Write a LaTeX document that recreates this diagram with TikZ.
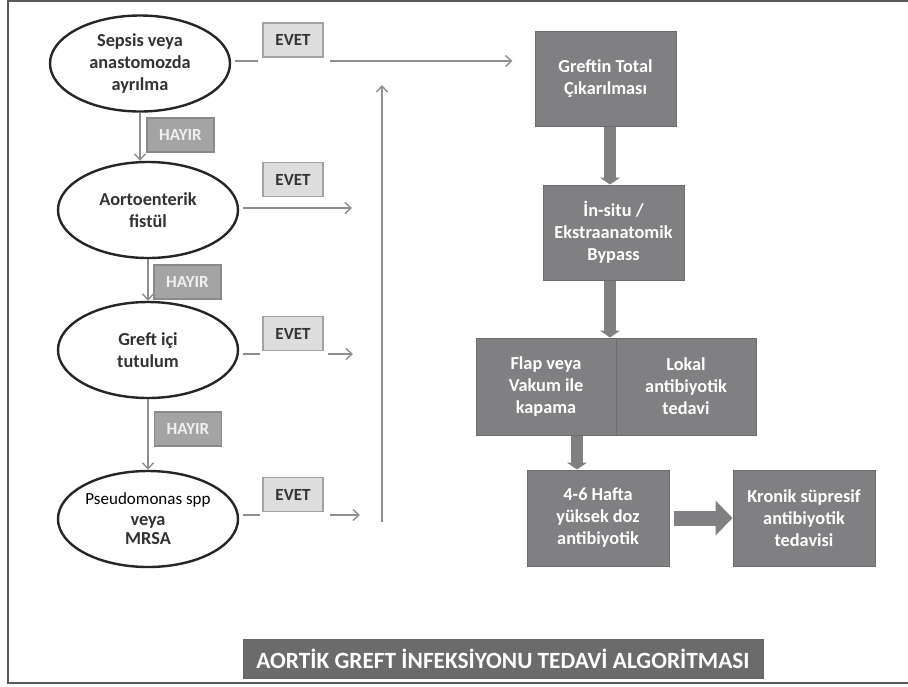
\documentclass[tikz,border=0pt]{standalone}
\usepackage{fontspec}
\setmainfont{Carlito}
\usetikzlibrary{arrows.meta,shapes.geometric}
\definecolor{boxgray}{HTML}{808083}
\definecolor{boxedge}{HTML}{6C6C6F}
\definecolor{linegray}{HTML}{8E8E8E}
\definecolor{evetfill}{HTML}{DDDDDD}
\definecolor{evetedge}{HTML}{A2A2A2}
\definecolor{hayirfill}{HTML}{A4A4A4}
\definecolor{hayiredge}{HTML}{8A8A8A}
\definecolor{titlefill}{HTML}{6B6B6B}
\definecolor{ink}{HTML}{333333}
\tikzset{
  ell/.style={ellipse,draw=black!85,line width=2.4pt,minimum width=180pt,minimum height=96pt,inner sep=0pt,
    align=center,text=ink,font=\fontsize{18.3}{22}\selectfont\bfseries},
  gbox/.style={rectangle,fill=boxgray,draw=boxedge,line width=1pt,inner sep=0pt,align=center,text=white,
    font=\fontsize{18.3}{22}\selectfont\bfseries},
  evetbox/.style={rectangle,fill=evetfill,draw=evetedge,line width=1.4pt,minimum width=60pt,minimum height=34pt,
    inner sep=0pt,text=ink,font=\fontsize{17}{18}\selectfont\bfseries},
  hayirbox/.style={rectangle,fill=hayirfill,draw=hayiredge,line width=1.4pt,minimum width=67pt,minimum height=34pt,
    inner sep=0pt,text=white!94!black,font=\fontsize{17}{18}\selectfont\bfseries},
  conn/.style={draw=linegray,line width=1.4pt},
  connarrow/.style={conn,-{Straight Barb[length=6pt,width=11pt,line width=1.4pt]}},
  fatarrow/.style={draw=boxgray,line width=12pt,-{Triangle[length=7pt,width=20pt]}},
  blockarrow/.style={draw=boxgray,line width=15pt,-{Triangle[length=17pt,width=34pt]}},
  frame/.style={draw=black!65,line width=2pt},
}
\begin{document}
\begin{tikzpicture}[x=1pt,y=-1pt]
\useasboundingbox (0,0) rectangle (908,686);
\fill[white] (0,0) rectangle (908,686);
\draw[frame] (912,1) -- (8,1) -- (8,683) -- (912,683);

% left column ellipses
\node[ell] (e1) at (140,63.5) {Sepsis veya\\anastomozda\\ayrılma};
\node[ell] (e2) at (148,210) {Aortoenterik\\fistül};
\node[ell] (e3) at (148,350) {Greft içi\\tutulum};
\node[ell,font=\fontsize{17}{22}\selectfont] (e4) at (148,519)
  {\textcolor{black}{Pseudomonas spp}\\[-1pt]{\fontsize{18.3}{22}\selectfont\bfseries veya}\\[-3pt]{\fontsize{18.3}{22}\selectfont\bfseries MRSA}};

% HAYIR arrows and labels
\draw[connarrow] (e1.south) -- (e1.south |- e2.north);
\draw[connarrow] (e2.south) -- (e3.north);
\draw[connarrow] (e3.south) -- (e4.north);
\node[hayirbox] (h1) at (180.5,135) {HAYIR};
\node[hayirbox] (h2) at (187.5,282) {HAYIR};
\node[hayirbox] (h3) at (188,429) {HAYIR};

% EVET labels
\node[evetbox] (v1) at (293,40) {EVET};
\node[evetbox] (v2) at (293,179.5) {EVET};
\node[evetbox] (v3) at (293,333.5) {EVET};
\node[evetbox] (v4) at (293,494.5) {EVET};

% right column boxes
\node[gbox,minimum width=141pt,minimum height=95pt] (greftin) at (605.5,78.5) {Greftin Total\\Çıkarılması};
\node[gbox,minimum width=141pt,minimum height=95pt] (insitu) at (613.5,232.5) {İn-situ /\\Ekstraanatomik\\Bypass};
\node[gbox,minimum width=140pt,minimum height=97pt] (flap) at (546,386.5) {Flap veya\\Vakum ile\\kapama};
\node[gbox,minimum width=140pt,minimum height=97pt] (lokal) at (686,386.5) {Lokal\\antibiyotik\\tedavi};
\node[gbox,minimum width=142pt,minimum height=96pt] (hafta) at (598,518) {4-6 Hafta\\yüksek doz\\antibiyotik};
\node[gbox,minimum width=142pt,minimum height=96pt] (kronik) at (804,518) {Kronik süpresif\\antibiyotik\\tedavisi};

% EVET connectors
\coordinate (a1) at (235,61);
\coordinate (b1) at (258,61);
\coordinate (c1) at (330,61);
\draw[conn] (a1) -- (b1);
\draw[connarrow,shorten >=22pt] (c1) -- (greftin.west |- c1);

\coordinate (a2) at (243,208);
\coordinate (c2) at (352,208);
\draw[connarrow] (a2) -- (c2);

\coordinate (a3) at (243,354);
\coordinate (b3) at (260,354);
\coordinate (c3) at (328,354);
\coordinate (d3) at (353,354);
\draw[conn] (a3) -- (b3);
\draw[connarrow] (c3) -- (d3);

\coordinate (a4) at (243,515);
\coordinate (b4) at (260,515);
\coordinate (c4) at (330,515);
\coordinate (d4) at (360,515);
\draw[conn] (a4) -- (b4);
\draw[connarrow] (c4) -- (d4);

% vertical collector
\coordinate (vbot) at (382,522);
\coordinate (vtop) at (382,85);
\draw[connarrow] (vbot) -- (vtop);

% thick arrows between boxes
\draw[fatarrow] ([xshift=4.5pt]greftin.south) -- ([xshift=4.5pt]greftin.south |- insitu.north);
\draw[fatarrow] ([xshift=-3.5pt]insitu.south) -- ([xshift=-3.5pt]insitu.south |- flap.north);
\draw[fatarrow] ([xshift=-21pt]hafta.north |- flap.south) -- ([xshift=-21pt]hafta.north);
\draw[blockarrow,shorten <=4pt] (hafta.east) -- (kronik.west);

% title
\node[rectangle,fill=titlefill,draw=black!60,line width=1pt,minimum width=520pt,minimum height=39pt,inner sep=0pt,
  text=white,font=\fontsize{23.3}{24}\selectfont\bfseries] (title) at (503,658.5)
  {AORTİK GREFT İNFEKSİYONU TEDAVİ ALGORİTMASI};
\end{tikzpicture}
\end{document}
